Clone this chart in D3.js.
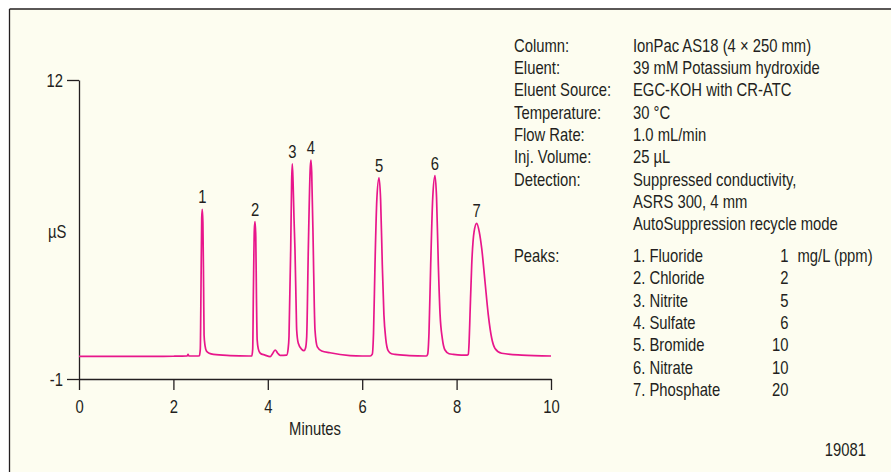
<!DOCTYPE html>
<html>
<head>
<meta charset="utf-8">
<script src="https://cdn.jsdelivr.net/npm/d3@7"></script>
<style>
  html, body { margin: 0; padding: 0; background: #ffffff; }
  svg { display: block; }
  text { font-family: "Liberation Sans", Arial, Helvetica, sans-serif; fill: #231f20; }
</style>
</head>
<body>
<svg id="chart" width="891" height="472"></svg>
<script>
// ---------------- data ----------------
const traceTime = [
  0.00, 1.00, 2.00, 2.29, 2.31, 2.33, 2.50,
  2.55, 2.57, 2.585, 2.60, 2.612, 2.625, 2.64, 2.65, 2.67, 2.70, 2.76, 2.85, 3.20, 3.60,
  3.66, 3.68, 3.695, 3.715, 3.729, 3.745, 3.76, 3.775, 3.80, 3.84, 3.94,
  4.05, 4.10, 4.155, 4.21, 4.26, 4.40,
  4.43, 4.449, 4.485, 4.505, 4.519, 4.535, 4.555, 4.576, 4.60, 4.612, 4.646, 4.718, 4.767,
  4.80, 4.824, 4.858, 4.90, 4.915, 4.93, 4.964, 4.985, 5.00, 5.049, 5.142, 5.318, 5.742, 6.00,
  6.17, 6.214, 6.24, 6.271, 6.31, 6.356, 6.39, 6.426, 6.46, 6.498, 6.553, 6.62, 6.695, 7.00, 7.33,
  7.36, 7.387, 7.415, 7.451, 7.495, 7.542, 7.575, 7.613, 7.65, 7.697, 7.754, 7.84, 7.93, 8.10, 8.22,
  8.248, 8.265, 8.284, 8.320, 8.37, 8.426, 8.48, 8.532, 8.602, 8.672, 8.744, 8.814, 8.955, 9.379, 10.00
];
const traceSignal = [
  -0.02, -0.02, -0.01, 0.00, 0.07, 0.00, 0.00,
  0.01, 0.30, 3.00, 6.00, 6.38, 5.80, 3.00, 0.90, 0.45, 0.22, 0.12, 0.07, 0.02, 0.00,
  0.00, 0.30, 2.80, 5.50, 5.84, 5.20, 2.50, 0.70, 0.30, 0.12, 0.04,
  -0.03, 0.10, 0.26, 0.12, 0.03, 0.04,
  0.30, 0.84, 4.60, 7.60, 8.35, 7.60, 6.00, 4.60, 2.20, 1.13, 0.55, 0.29, 0.23,
  0.35, 0.84, 4.60, 8.20, 8.52, 8.00, 4.60, 2.20, 1.13, 0.40, 0.22, 0.14, 0.02, 0.00,
  0.00, 0.08, 1.00, 3.96, 6.80, 7.75, 6.80, 3.96, 1.80, 0.77, 0.22, 0.10, 0.07, 0.02, 0.00,
  0.00, 0.08, 1.00, 3.96, 6.90, 7.84, 6.90, 3.96, 1.80, 0.77, 0.26, 0.10, 0.07, 0.04, 0.04,
  0.08, 0.60, 1.78, 3.96, 5.40, 5.77, 5.40, 4.68, 3.23, 1.78, 0.77, 0.33, 0.12, 0.04, 0.00
];
const peakLabels = ["1", "2", "3", "4", "5", "6", "7"];
const peakTimes  = [2.612, 3.729, 4.519, 4.915, 6.356, 7.542, 8.426];
const peakHeights = [6.38, 5.84, 8.35, 8.52, 7.75, 7.84, 5.77];

const xTicks = [0, 2, 4, 6, 8, 10];
const yTicks = [12, -1];
const xTitle = "Minutes";
const yTitle = "µS";

const conditionLabels = ["Column:", "Eluent:", "Eluent Source:", "Temperature:", "Flow Rate:", "Inj. Volume:", "Detection:", "", ""];
const conditionValues = ["IonPac AS18 (4 × 250 mm)", "39 mM Potassium hydroxide", "EGC-KOH with CR-ATC", "30 °C", "1.0 mL/min", "25 µL", "Suppressed conductivity,", "ASRS 300, 4 mm", "AutoSuppression recycle mode"];
const peaksHeading = "Peaks:";
const peakNames = ["1. Fluoride", "2. Chloride", "3. Nitrite", "4. Sulfate", "5. Bromide", "6. Nitrate", "7. Phosphate"];
const peakAmounts = ["1", "2", "5", "6", "10", "10", "20"];
const amountUnit = "mg/L (ppm)";
const figureId = "19081";

// ---------------- drawing ----------------
const svg = d3.select("#chart");
const INK = "#231f20";
const TRACE = "#e8168b";
const FS = 18.5;        // font size
const SX = 0.8;         // horizontal condensing
const FONT = '"Liberation Sans", Arial, Helvetica, sans-serif';

// background and frame
svg.append("rect").attr("x", 0).attr("y", 0).attr("width", 891).attr("height", 472).attr("fill", "#ffffff");
svg.append("rect").attr("x", 9.5).attr("y", 9).attr("width", 900).attr("height", 500).attr("fill", "#fdfdf0");
svg.append("line").attr("x1", 9.5).attr("x2", 891).attr("y1", 9).attr("y2", 9).attr("stroke", INK).attr("stroke-width", 1.3);
svg.append("line").attr("x1", 9.5).attr("x2", 9.5).attr("y1", 9).attr("y2", 472).attr("stroke", INK).attr("stroke-width", 1.3);

function label(x, y, s, anchor) {
  const g = svg.append("g").attr("transform", `translate(${x},${y}) scale(${SX},1)`);
  g.append("text").attr("x", 0).attr("y", 0)
    .attr("text-anchor", anchor || "start")
    .style("font-size", FS + "px")
    .style("font-family", FONT)
    .text(s);
  return g;
}

const x = d3.scaleLinear().domain([0, 10]).range([79, 551]);
const y = d3.scaleLinear().domain([-1, 12]).range([379, 80]);

// axes
const fmt = d => String(d);
const xAxis = d3.axisBottom(x).tickValues(xTicks).tickFormat(fmt)
  .tickSizeInner(11).tickSizeOuter(0).tickPadding(9.5);
const gx = svg.append("g").attr("transform", `translate(0,${y(-1)})`).call(xAxis);
gx.attr("font-size", FS).attr("font-family", FONT);
gx.select(".domain").attr("stroke", INK).attr("stroke-width", 1.3);
gx.selectAll(".tick line").attr("stroke", INK).attr("stroke-width", 1.3);
gx.selectAll(".tick text").attr("fill", INK).style("font-size", FS + "px")
  .attr("transform", `scale(${SX},1)`).attr("dy", "0.71em");

const yAxis = d3.axisLeft(y).tickValues(yTicks).tickFormat(fmt)
  .tickSizeInner(12).tickSizeOuter(0).tickPadding(4);
const gy = svg.append("g").attr("transform", `translate(${x(0)},0)`).call(yAxis);
gy.attr("font-size", FS).attr("font-family", FONT);
gy.select(".domain").attr("stroke", INK).attr("stroke-width", 1.3);
gy.selectAll(".tick line").attr("stroke", INK).attr("stroke-width", 1.3);
gy.selectAll(".tick text").attr("fill", INK).style("font-size", FS + "px")
  .attr("transform", `scale(${SX},1)`).attr("x", -16 / SX).attr("dy", "0.36em");

// axis titles
label((x(0) + x(10)) / 2, 435, xTitle, "middle");
label(48, 238, yTitle, "start");

// trace
const pts = traceTime.map((t, i) => [t, traceSignal[i]]);
const line = d3.line().x(d => x(d[0])).y(d => y(d[1])).curve(d3.curveMonotoneX);
svg.append("path").datum(pts).attr("d", line)
  .attr("fill", "none").attr("stroke", TRACE).attr("stroke-width", 1.7)
  .attr("stroke-linejoin", "round");

// peak labels
peakLabels.forEach((p, i) => {
  label(x(peakTimes[i]), y(peakHeights[i]) - 6, p, "middle");
});

// conditions block
const rowH = 22.3;
conditionLabels.forEach((s, i) => {
  if (s) label(514, 51.7 + rowH * i, s, "start");
});
conditionValues.forEach((s, i) => {
  label(633, 51.7 + rowH * i, s, "start");
});
const peakRowH = 22.4;
label(514, 261.7, peaksHeading, "start");
peakNames.forEach((s, i) => {
  label(633, 261.7 + peakRowH * i, s, "start");
  label(788.5, 261.7 + peakRowH * i, peakAmounts[i], "end");
});
label(797.5, 261.7, amountUnit, "start");
label(866, 456, figureId, "end");
</script>
</body>
</html>
